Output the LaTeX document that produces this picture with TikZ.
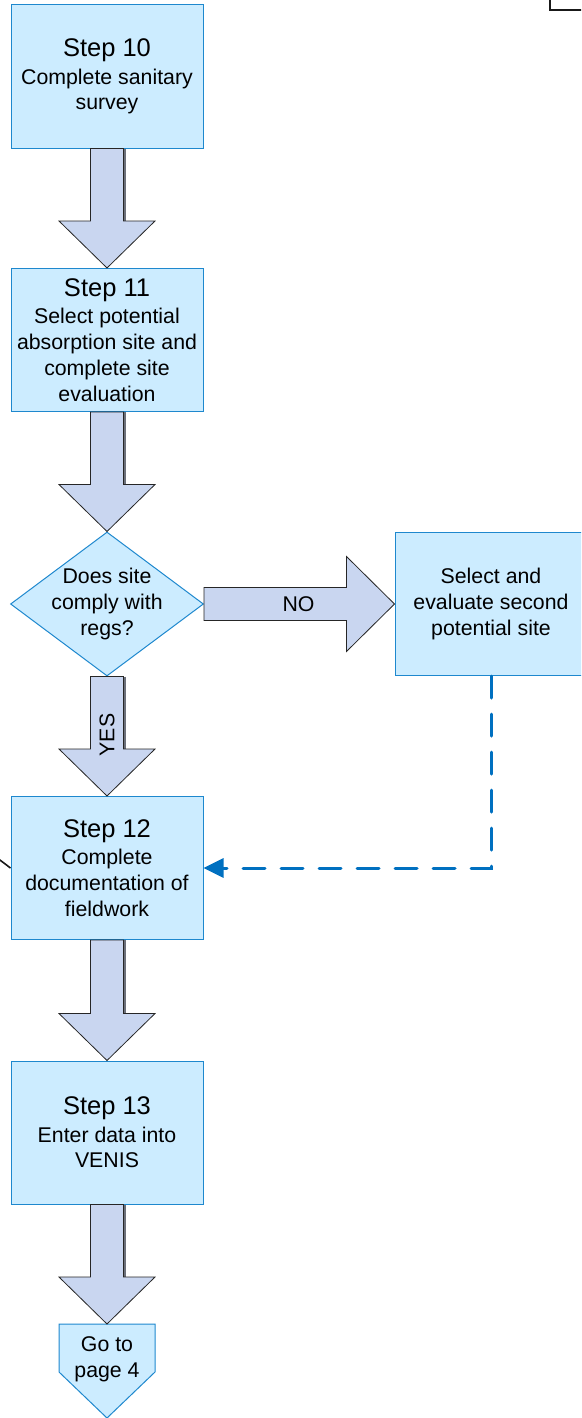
\documentclass[tikz,border=0pt]{standalone}
\usepackage{fontspec}
\setmainfont{Liberation Sans}
\usetikzlibrary{calc,shapes.geometric,arrows.meta}

\definecolor{boxfill}{RGB}{204,236,255}
\definecolor{boxline}{RGB}{30,136,206}
\definecolor{arrowfill}{RGB}{201,214,240}
\definecolor{arrowshade}{RGB}{108,112,122}
\definecolor{dashblue}{RGB}{0,112,192}

\newcommand\bodyfont{\fontsize{21.3}{25.8}\selectfont}
\newcommand\titlefont{\fontsize{25.5}{28}\selectfont}

% thick block arrow pointing down, from the bottom of one shape to the top of the next
\newcommand\blockdown[2]{%
  \draw[shaftshade] ($(#1)+(17.6,0)$) -- ($(#2)+(17.6,-47.5)$);
  \draw[blockarrow] ($(#1)+(-16.5,0)$) -- ($(#2)+(-16.5,-47)$) -- ($(#2)+(-48,-47)$)
    -- (#2) -- ($(#2)+(48,-47)$) -- ($(#2)+(16.5,-47)$) -- ($(#1)+(16.5,0)$) -- cycle;}

\begin{document}
\begin{tikzpicture}[x=1pt,y=-1pt,
  stepbox/.style={draw=boxline, fill=boxfill, line width=1pt, minimum width=192pt,
    minimum height=143pt, inner sep=0pt, align=center, font=\bodyfont},
  decision/.style={diamond, draw=boxline, fill=boxfill, line width=1pt,
    minimum width=193pt, minimum height=144pt, inner sep=0pt},
  boxshape/.style={draw=boxline, fill=boxfill, line width=1pt, line join=miter},
  plaintext/.style={align=center, font=\bodyfont, inner sep=0pt},
  blockarrow/.style={draw=black!85, fill=arrowfill, line width=0.8pt, line join=miter},
  shaftshade/.style={draw=arrowshade, line width=2pt},
  flowback/.style={draw=dashblue, line width=3pt, dash pattern=on 22pt off 16pt, line cap=round},
  edgeline/.style={draw=black!90, line width=1.6pt},
]
\useasboundingbox (0,0) rectangle (581,1418);
\clip (0,0) rectangle (581,1418);

% process steps
\node[stepbox] (s10) at (107,76.5) {{\titlefont Step 10}\\[1.7pt]Complete sanitary\\survey};
\node[stepbox] (s11) at (107,340) {{\titlefont Step 11}\\[1.7pt]Select potential\\absorption site and\\complete site\\evaluation};
\node[decision] (dq) at (107,604) {};
\node[plaintext] (dqtext) at (dq) {Does site\\comply with\\regs?};
\node[stepbox] (alt) at (491,604) {Select and\\evaluate second\\potential site};
\node[stepbox] (s12) at (107,868) {{\titlefont Step 12}\\[1.7pt]Complete\\documentation of\\fieldwork};
\node[stepbox] (s13) at (107,1132.5) {{\titlefont Step 13}\\[1.7pt]Enter data into\\VENIS};

% off-page connector
\coordinate (gotop) at (107,1324);
\draw[boxshape] ($(gotop)+(-48,0)$) -- ($(gotop)+(48,0)$) -- ($(gotop)+(48,48)$)
  -- ($(gotop)+(0,94)$) -- ($(gotop)+(-48,48)$) -- cycle;
\node[plaintext] (go) at (107,1359.5) {Go to\\page 4};

% block arrows between the steps
\blockdown{s10.south}{s11.north}
\blockdown{s11.south}{dq.north}
\blockdown{dq.south}{s12.north}
\blockdown{s12.south}{s13.north}
\blockdown{s13.south}{gotop}
\draw[blockarrow] ($(dq.east)+(0,-16.5)$) -- ($(alt.west)+(-48,-16.5)$) -- ($(alt.west)+(-48,-47.5)$)
  -- (alt.west) -- ($(alt.west)+(-48,47.5)$) -- ($(alt.west)+(-48,16.5)$)
  -- ($(dq.east)+(0,16.5)$) -- cycle;
\node[plaintext] (nolabel) at (298.5,604) {NO};
\node[plaintext, rotate=90] (yeslabel) at (107,735) {YES};

% return path from the second site evaluation
\draw[flowback, -{Triangle[length=20pt,width=19pt]}] (alt.south) |- (s12.east);

% lines coming in from neighbouring parts of the chart
\coordinate (offleft) at (-20,845);
\draw[edgeline] (offleft) -- (s12.west);
\coordinate (topcorner) at (550,10);
\draw[edgeline] (550,-30) -- (topcorner) -- (640,10);
\end{tikzpicture}
\end{document}
